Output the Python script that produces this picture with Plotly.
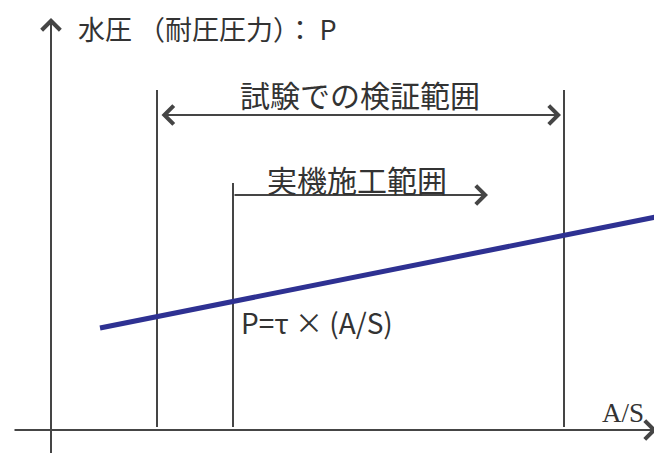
import plotly.graph_objects as go

# schematic values (A/S on x, water pressure P on y)
test_range = [1.06, 5.13]        # 試験での検証範囲
field_start = 1.82               # 実機施工範囲 start
field_arrow_end = 4.37
test_top = 3.40
field_top = 2.47
test_arrow_level = 3.15
field_arrow_level = 2.35
line_x = [0.49, 6.25]            # P = tau x (A/S)
line_y = [1.02, 2.17]

gray = "#454545"
txt = "#333333"
jp = "Noto Sans CJK JP"

fig = go.Figure()

# vertical boundary lines
for xb, top in [(test_range[0], test_top), (field_start, field_top), (test_range[1], test_top)]:
    fig.add_trace(go.Scatter(x=[xb, xb], y=[0.03, top], mode="lines",
                             line=dict(color=gray, width=2), hoverinfo="skip"))

# blue relation line
fig.add_trace(go.Scatter(x=line_x, y=line_y, mode="lines",
                         line=dict(color="#2E3192", width=5), hoverinfo="skip"))

def arrow(x0, y0, x1, y1, both=False):
    fig.add_annotation(x=x1, y=y1, ax=x0, ay=y0, xref="x", yref="y", axref="x", ayref="y",
                       text="", showarrow=True, arrowhead=4, startarrowhead=4,
                       arrowside="end+start" if both else "end",
                       arrowsize=1.8, startarrowsize=1.8, arrowwidth=2, arrowcolor=gray)

# axes
arrow(0, -0.3, 0, 4.12)
arrow(-0.38, 0, 6.06, 0)
# range arrows
arrow(test_range[0] + 0.03, test_arrow_level, test_range[1] - 0.03, test_arrow_level, both=True)
arrow(field_start, field_arrow_level, field_arrow_end, field_arrow_level)

fig.add_annotation(x=0.25, y=4.02, text="水圧 （耐圧圧力）： P", showarrow=False, xanchor="left",
                   font=dict(family=jp, size=27, color=txt))
fig.add_annotation(x=3.09, y=3.36, text="試験での検証範囲", showarrow=False,
                   font=dict(family=jp, size=30, color=txt))
fig.add_annotation(x=3.06, y=2.51, text="実機施工範囲", showarrow=False,
                   font=dict(family=jp, size=30, color=txt))
fig.add_annotation(x=1.88, y=1.08, text="P=τ × (A/S)", showarrow=False, xanchor="left",
                   font=dict(family=jp, size=28, color=txt))
fig.add_annotation(x=5.72, y=0.17, text="A/S", showarrow=False,
                   font=dict(family="Liberation Serif", size=27, color=txt))

# ranges shifted by 8 px to offset the page's body margin
fig.update_layout(width=662, height=453, margin=dict(l=0, r=0, t=0, b=0),
                  paper_bgcolor="white", plot_bgcolor="white", showlegend=False,
                  xaxis=dict(range=[-0.43, 6.19], visible=False),
                  yaxis=dict(range=[-0.31, 4.22], visible=False))

fig.write_html("out.html")
